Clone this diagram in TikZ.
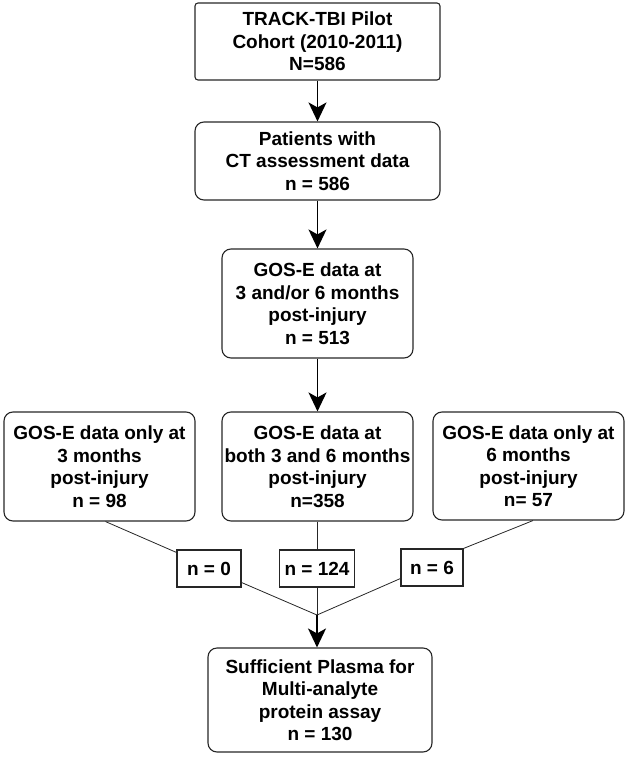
\documentclass[tikz,border=0pt]{standalone}
\usepackage{fontspec}
\setmainfont{Liberation Sans}
\usetikzlibrary{arrows.meta}
\begin{document}
\begin{tikzpicture}[x=1pt,y=-1pt,
  base/.style={draw=black!85, line width=1.1pt, align=center, inner sep=0pt,
    font=\bfseries\fontsize{19}{22.5}\selectfont},
  rbox/.style={base, rounded corners=9pt},
  sbox/.style={base, rounded corners=3pt},
  nbox/.style={base},
  arr/.style={line width=1.8pt, -{Stealth[width=18pt,length=19pt,inset=5pt]}},
  thin/.style={line width=0.8pt, draw=black!85}]
\useasboundingbox (0,0) rectangle (630,757);
\node[sbox, minimum width=245pt, minimum height=77pt] (T) at (317.5,41.5) {TRACK-TBI Pilot\\Cohort (2010-2011)\\N=586};
\node[rbox, minimum width=245pt, minimum height=78pt] (P) at (317.5,161) {Patients with\\CT assessment data\\n = 586};
\node[rbox, minimum width=191pt, minimum height=109pt] (G) at (317.5,303.5) {GOS-E data at\\3 and/or 6 months\\post-injury\\n = 513};
\node[rbox, minimum width=191pt, minimum height=109pt] (L) at (99.5,466.5) {GOS-E data only at\\3 months\\post-injury\\n = 98};
\node[rbox, minimum width=191pt, minimum height=109pt] (M) at (317.5,466.5) {GOS-E data at\\both 3 and 6 months\\post-injury\\n=358};
\node[rbox, minimum width=191pt, minimum height=108pt] (R) at (528.5,466) {GOS-E data only at\\6 months\\post-injury\\n= 57};
\node[nbox, minimum width=64pt, minimum height=37pt] (N0) at (209,568.5) {n = 0};
\node[nbox, minimum width=75pt, minimum height=37pt] (N124) at (317,568.5) {n = 124};
\node[nbox, minimum width=62pt, minimum height=37pt] (N6) at (432,567.5) {n = 6};
\coordinate (C) at (317,615);
\node[rbox, minimum width=224pt, minimum height=104pt] (B) at (320,700) {Sufficient Plasma for\\Multi-analyte\\protein assay\\n = 130};
\draw[arr] (T.south) -- (P.north);
\draw[arr] (P.south) -- (G.north);
\draw[arr] (G.south) -- (G.south |- M.north);
\draw[thin] ([xshift=6pt]L.south) -- ([yshift=-3pt]N0.north west);
\draw[thin] (M.south -| N124.north) -- (N124.north);
\draw[thin] ([xshift=4.5pt]R.south) -- (N6.north east);
\draw[thin] ([yshift=-14pt]N0.east) -- (C);
\draw[thin] (N124.south) -- (C);
\draw[thin] ([yshift=-11pt]N6.west) -- (C);
\draw[arr] (C) -- (C |- B.north);
\end{tikzpicture}
\end{document}
